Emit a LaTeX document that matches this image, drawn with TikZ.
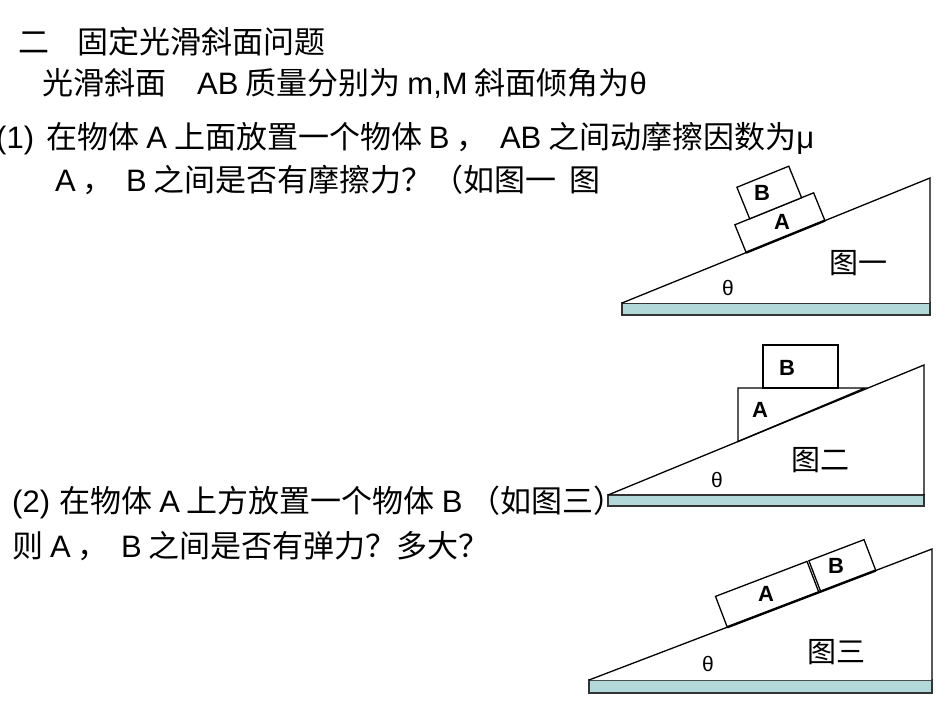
\documentclass[tikz,border=0pt]{standalone}
\usepackage{fontspec}
\setmainfont{Noto Sans CJK SC}
\newfontfamily\lat{Liberation Sans}
\definecolor{gnd}{RGB}{178,216,218}
\begin{document}
\begin{tikzpicture}[x=1pt,y=1pt,
  txt/.style={anchor=base west,inner sep=0pt,font=\fontsize{31}{34}\selectfont},
  lbl/.style={inner sep=0pt,font=\lat\bfseries\fontsize{22}{24}\selectfont},
  th/.style={inner sep=0pt,font=\lat\fontsize{21}{23}\selectfont},
  fig/.style={inner sep=0pt,font=\fontsize{29}{32}\selectfont},
  ground/.style={draw=black!80,fill=gnd,line width=1.2pt},
  body/.style={draw=black,line width=1.3pt,fill=white}]
\useasboundingbox (0,0) rectangle (950,713);
\fill[white] (0,0) rectangle (950,713);
% text
\node[txt] (t1) at (18,{713-54}) {二\hspace{0.9em}固定光滑斜面问题};
\node[txt] (t2) at (42,{713-95}) {光滑斜面\hspace{1em}{\lat AB} 质量分别为 {\lat m,M} 斜面倾角为{\lat θ}};
\node[txt] (t3) at (-4,{713-149}) {{\lat (1)}\hspace{0.4em}在物体 {\lat A} 上面放置一个物体 {\lat B} ，\hspace{0.4em}{\lat AB} 之间动摩擦因数为{\lat μ}};
\node[txt] (t4) at (55,{713-192}) {{\lat A} ，\hspace{0.4em}{\lat B} 之间是否有摩擦力？（如图一\hspace{0.4em}图};
\node[txt] (t5) at (12,{713-512}) {{\lat (2)}\hspace{0.3em}在物体 {\lat A} 上方放置一个物体 {\lat B} （如图三）};
\node[txt] (t6) at (12,{713-557}) {则 {\lat A} ，\hspace{0.4em}{\lat B} 之间是否有弹力？多大？};
% figure 1
\fill[white] (622,{713-318}) rectangle (945,{713-160});
\draw[ground] (622,{713-315}) rectangle (930,{713-303});
\draw[body] (622,{713-303}) -- (930,{713-178}) -- (930,{713-303});
\begin{scope}[shift={(622,{713-303})},rotate=22.1]
  \draw[body] (134,0) rectangle (219,30);
  \draw[body] (150,30) rectangle (206,64);
  \draw[line width=2.4pt] (134,0) -- (219,0);
\end{scope}
\node[lbl] (b1) at (762,{713-193}) {B};
\node[lbl] (a1) at (782,{713-222}) {A};
\node[th] (th1) at (728,{713-288}) {θ};
\node[fig] (f1) at (858,{713-263}) {图一};
% figure 2
\draw[ground] (608,{713-506}) rectangle (924,{713-495});
\draw[body] (738,{713-441.5}) -- (738,{713-388}) -- (865,{713-388}) -- cycle;
\draw[body] (763,{713-388}) rectangle (838,{713-345});
\draw[body,fill=none] (608,{713-495}) -- (924,{713-365}) -- (924,{713-495});
\node[lbl] (a2) at (760,{713-410}) {A};
\node[lbl] (b2) at (787,{713-368}) {B};
\node[th] (th2) at (717,{713-480}) {θ};
\node[fig] (f2) at (820,{713-460}) {图二};
% figure 3
\draw[ground] (589,{713-693}) rectangle (932,{713-680});
\draw[body] (589,{713-680}) -- (932,{713-549}) -- (932,{713-680});
\begin{scope}[shift={(589,{713-680})},rotate=20.9]
  \draw[body] (148,0) rectangle (246,33);
  \draw[body] (248,0) rectangle (307,33);
  \draw[line width=2.4pt] (148,0) -- (307,0);
\end{scope}
\node[lbl] (a3) at (766,{713-594}) {A};
\node[lbl] (b3) at (836,{713-566}) {B};
\node[th] (th3) at (708,{713-664}) {θ};
\node[fig] (f3) at (836,{713-652}) {图三};
\end{tikzpicture}
\end{document}
